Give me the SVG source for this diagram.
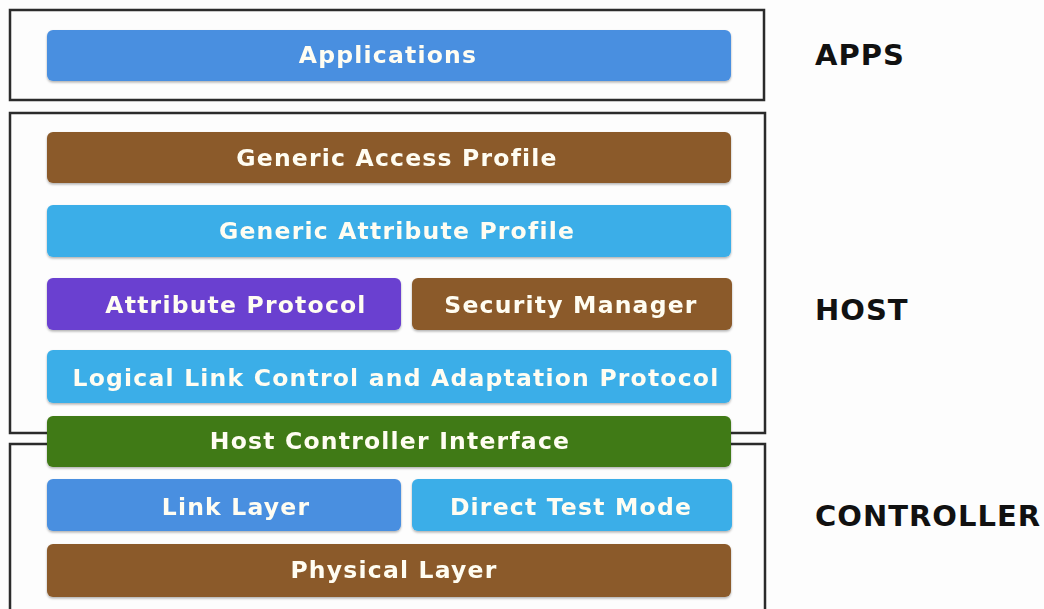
<svg xmlns="http://www.w3.org/2000/svg" width="1044" height="609" viewBox="0 0 1044 609">
<style>
.box{fill:none;stroke:#2b2b2b;stroke-width:2.5}
.bar{stroke:none}
.t{font-family:"DejaVu Sans","Liberation Sans",sans-serif;font-weight:700;font-size:23.5px;letter-spacing:1.2px;fill:#fffdf2;text-anchor:middle}
.lbl{font-family:"DejaVu Sans","Liberation Sans",sans-serif;font-weight:700;font-size:29px;letter-spacing:1px;fill:#111}
.blue{fill:#4a8fe0}.lblue{fill:#3aaee8}.brown{fill:#8b5a2b}.purple{fill:#6a3fd0}.green{fill:#3f7a14}
</style>
<defs>
<filter id="sh" x="-5%" y="-20%" width="110%" height="150%"><feDropShadow dx="0" dy="1.5" stdDeviation="1.2" flood-color="#000" flood-opacity="0.3"/></filter>
</defs>
<rect width="1044" height="609" fill="#fdfdfd"/>
<g id="frames">
<rect class="box" x="10" y="10" width="754" height="90"/>
<rect class="box" x="10" y="113" width="755" height="320"/>
<rect class="box" x="10" y="444" width="755" height="180"/>
</g>
<g id="applications" filter="url(#sh)"><rect class="bar blue" x="47" y="30" width="684" height="51" rx="6"/><text class="t" x="388" y="63">Applications</text></g>
<g id="gap" filter="url(#sh)"><rect class="bar brown" x="47" y="132" width="684" height="51" rx="6"/><text class="t" x="397" y="166">Generic Access Profile</text></g>
<g id="gatt" filter="url(#sh)"><rect class="bar lblue" x="47" y="205" width="684" height="52" rx="6"/><text class="t" x="397" y="239">Generic Attribute Profile</text></g>
<g id="att" filter="url(#sh)"><rect class="bar purple" x="47" y="278" width="354" height="52" rx="6"/><text class="t" x="236" y="313">Attribute Protocol</text></g>
<g id="sm" filter="url(#sh)"><rect class="bar brown" x="412" y="278" width="320" height="52" rx="6"/><text class="t" x="571" y="313">Security Manager</text></g>
<g id="l2cap" filter="url(#sh)"><rect class="bar lblue" x="47" y="350" width="684" height="53" rx="6"/><text class="t" x="396" y="386">Logical Link Control and Adaptation Protocol</text></g>
<g id="hci" filter="url(#sh)"><rect class="bar green" x="47" y="416" width="684" height="51" rx="6"/><text class="t" x="390" y="449">Host Controller Interface</text></g>
<g id="ll" filter="url(#sh)"><rect class="bar blue" x="47" y="479" width="354" height="52" rx="6"/><text class="t" x="236" y="515">Link Layer</text></g>
<g id="dtm" filter="url(#sh)"><rect class="bar lblue" x="412" y="479" width="320" height="52" rx="6"/><text class="t" x="571" y="515">Direct Test Mode</text></g>
<g id="phy" filter="url(#sh)"><rect class="bar brown" x="47" y="544" width="684" height="53" rx="6"/><text class="t" x="394" y="578">Physical Layer</text></g>
<g id="labels">
<text class="lbl" x="815" y="65">APPS</text>
<text class="lbl" x="815" y="320">HOST</text>
<text class="lbl" x="815" y="526">CONTROLLER</text>
</g>
</svg>
